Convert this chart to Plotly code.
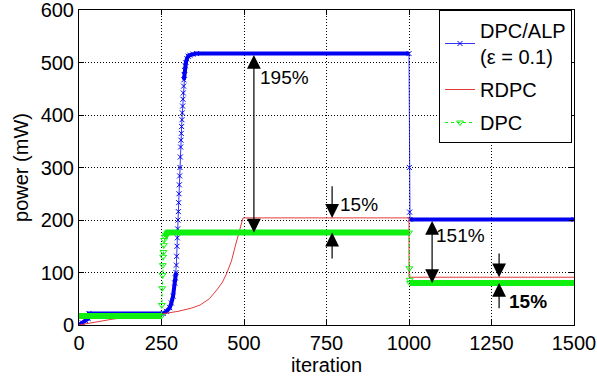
import plotly.graph_objects as go

# ---------------- data ----------------
iter_blue = [0, 10, 20, 28, 30, 255, 265, 275, 280, 285, 290, 292, 294, 295, 296, 297, 298, 299,
             300, 301, 302, 303, 304, 305, 306, 307, 308, 309, 310, 311, 312, 313, 314, 315,
             316, 317, 318, 319, 320, 322, 324, 327, 331, 336, 345, 356,
             1000, 1001, 1002, 1003, 1500]
pow_blue = [0, 4, 8, 12, 22, 22, 26, 33, 42, 55, 80, 90, 100, 114, 131, 150, 166, 183,
            200, 216, 233, 250, 267, 284, 300, 320, 339, 352, 365, 378, 391, 404, 417, 430,
            442, 455, 467, 476, 485, 494, 500, 507, 512, 514, 516, 517,
            517, 300, 215, 201, 201]

iter_red = [0, 50, 100, 150, 200, 250, 300, 340, 367, 395, 418, 435, 448, 462, 473, 486, 497,
            1000, 1000, 1500]
pow_red = [0, 6, 11, 15, 18, 21, 26, 32, 38, 50, 67, 82, 99, 122, 149, 181, 204,
           204, 91, 91]

iter_green = [0, 250, 251, 252, 253, 254, 255, 256, 257, 258, 260, 263, 268, 1000, 1001, 1002,
              1003, 1500]
pow_green = [17, 17, 38, 70, 95, 114, 130, 139, 152, 162, 168, 172, 176, 176, 108, 86,
             80, 80]

x_ticks = [0, 250, 500, 750, 1000, 1250, 1500]
y_ticks = [0, 100, 200, 300, 400, 500, 600]

names = ["DPC/ALP<br>(ε = 0.1)", "RDPC", "DPC"]

# transient spans drawn with the thin line only
thin_blue = [(294, 318), (1000, 1003)]
thin_green = [(250, 260), (1000, 1003)]

# annotation positions (iteration) and labels
ann_195_x, ann_15a_x, ann_151_x, ann_15b_x = 530, 767, 1070, 1273

BLUE = "#0000f2"
RED = "#e23a3a"
GREEN = "#10f010"
FONT = "Liberation Sans, Arial, Helvetica, sans-serif"


def thick_runs(xs, ys, spans):
    runs, cur = [], []
    for i in range(len(xs) - 1):
        x0, x1 = xs[i], xs[i + 1]
        thin = any(lo <= x0 and x1 <= hi for lo, hi in spans)
        if thin:
            if cur:
                runs.append(cur)
                cur = []
        else:
            if not cur:
                cur = [(x0, ys[i])]
            cur.append((x1, ys[i + 1]))
    if cur:
        runs.append(cur)
    ox, oy = [], []
    for r in runs:
        ox += [p[0] for p in r] + [None]
        oy += [p[1] for p in r] + [None]
    return ox, oy


fig = go.Figure()

# blue
bx, by = thick_runs(iter_blue, pow_blue, thin_blue)
fig.add_trace(go.Scatter(x=bx, y=by, mode="lines", line=dict(color=BLUE, width=4),
                         showlegend=False, hoverinfo="skip"))
fig.add_trace(go.Scatter(x=iter_blue, y=pow_blue, mode="lines+markers", name=names[0],
                         legendgroup="a",
                         line=dict(color=BLUE, width=0.8),
                         marker=dict(symbol="x-thin", size=5, line=dict(color=BLUE, width=1))))
# red
fig.add_trace(go.Scatter(x=iter_red, y=pow_red, mode="lines", name=names[1], legendgroup="b",
                         line=dict(color=RED, width=1)))
# green
gx, gy = thick_runs(iter_green, pow_green, thin_green)
fig.add_trace(go.Scatter(x=gx, y=gy, mode="lines", line=dict(color=GREEN, width=6),
                         showlegend=False, hoverinfo="skip"))
fig.add_trace(go.Scatter(x=iter_green, y=pow_green, mode="lines+markers", name=names[2],
                         legendgroup="c",
                         line=dict(color=GREEN, width=1, dash="dot"),
                         marker=dict(symbol="triangle-down-open", size=6,
                                     line=dict(color="#40c040", width=1))))

blue_hi = max(pow_blue)
green_hi = pow_green[-5]
red_hi = pow_red[-3]
blue_lo = pow_blue[-1]
green_lo = pow_green[-1]
red_lo = pow_red[-1]

arrow = dict(showarrow=True, text="", xref="x", yref="y", axref="x", ayref="y",
             arrowhead=2, arrowsize=2.3, arrowwidth=1.2, arrowcolor="black", standoff=0,
             startstandoff=0)
anns = [
    dict(x=ann_195_x, y=green_hi, ax=ann_195_x, ay=blue_hi, arrowside="end+start", **arrow),
    dict(x=ann_15a_x, y=red_hi, ax=ann_15a_x, ay=267, **arrow),
    dict(x=ann_15a_x, y=green_hi, ax=ann_15a_x, ay=124, **arrow),
    dict(x=ann_151_x, y=green_lo, ax=ann_151_x, ay=blue_lo, arrowside="end+start", **arrow),
    dict(x=ann_15b_x, y=red_lo, ax=ann_15b_x, ay=139, **arrow),
    dict(x=ann_15b_x, y=green_lo, ax=ann_15b_x, ay=29, **arrow),
]
labels = [
    (542, 472, "195%"),
    (785, 230, "15%"),
    (1076, 171, "151%"),
    (1297, 44, "<b>15%</b>"),
]
for lx, ly, t in labels:
    anns.append(dict(x=lx, y=ly, xref="x", yref="y", text=t, showarrow=False,
                     xanchor="left", yanchor="middle", font=dict(size=19, color="black")))

axis_common = dict(showline=True, linecolor="black", linewidth=1, mirror="allticks",
                   ticks="inside", ticklen=5, tickcolor="black", showgrid=True,
                   gridcolor="black", griddash="1px,2px", gridwidth=1, zeroline=False,
                   automargin=False, ticklabeloverflow="allow",
                   tickfont=dict(size=20, color="black"))

fig.update_layout(
    width=597, height=379,
    margin=dict(l=79, r=23, t=10, b=54),
    paper_bgcolor="white", plot_bgcolor="white",
    font=dict(family=FONT, color="black", size=20),
    xaxis=dict(range=[0, 1500], tickvals=x_ticks, title=dict(text="iteration", font=dict(size=20),
                                                              standoff=4),
               **axis_common),
    yaxis=dict(range=[0, 600], tickvals=y_ticks, title=dict(text="power (mW)", font=dict(size=20),
                                                             standoff=6),
               **axis_common),
    legend=dict(x=0.996, y=1, xanchor="right", yanchor="top", bgcolor="white",
                bordercolor="black", borderwidth=1, font=dict(size=20),
                tracegroupgap=4, itemwidth=30),
    annotations=anns,
)

fig.write_html("out.html")
